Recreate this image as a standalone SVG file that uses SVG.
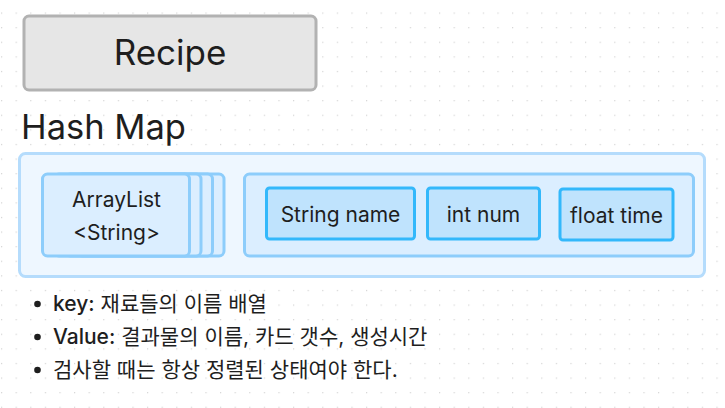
<svg xmlns="http://www.w3.org/2000/svg" width="725" height="408" viewBox="0 0 725 408">
<defs>
<pattern id="dots" x="1" y="12.5" width="14.6" height="14.6" patternUnits="userSpaceOnUse">
<rect x="0" y="0" width="1.2" height="1.2" fill="#d4d4d4"/>
</pattern>
</defs>
<style>
text{font-family:Inter,"Noto Sans","Noto Sans CJK KR",sans-serif;fill:#1e1e1e}
.lb{stroke:#8dcdfb;stroke-width:3;fill:#dbeeff}
.cell{stroke:#33b8fb;stroke-width:3;fill:#bfe3fd}
.t{font-size:21px;text-anchor:middle}
.b{font-size:21px}
</style>
<rect width="725" height="408" fill="#ffffff"/>
<rect width="725" height="408" fill="url(#dots)"/>
<g id="recipe">
<rect x="24" y="16" width="292" height="74" rx="5" fill="#e6e6e6" stroke="#b2b2b2" stroke-width="3"/>
<text x="170" y="65" style="font-size:35px;text-anchor:middle">Recipe</text>
</g>
<g id="hashmap-title">
<text x="21" y="139" style="font-size:34.5px">Hash Map</text>
</g>
<g id="hashmap">
<rect x="19.5" y="153.5" width="685" height="123" rx="6" fill="#eef7ff" stroke="#b5dcfc" stroke-width="3"/>
</g>
<g id="arraylist">
<rect class="lb" x="77" y="174" width="147" height="82" rx="5"/>
<rect class="lb" x="65.5" y="174" width="147" height="82" rx="5"/>
<rect class="lb" x="54" y="174" width="147" height="82" rx="5"/>
<rect class="lb" x="42.5" y="174" width="147" height="82" rx="5"/>
<text class="t" x="116.5" y="207">ArrayList</text>
<text class="t" x="116.5" y="240">&lt;String&gt;</text>
</g>
<g id="value">
<rect class="lb" x="244.5" y="174" width="449" height="82" rx="5"/>
</g>
<g id="string-name">
<rect class="cell" x="266.5" y="188" width="148" height="51" rx="3"/>
<text class="t" x="340.5" y="221.5">String name</text>
</g>
<g id="int-num">
<rect class="cell" x="427.5" y="188" width="112" height="51" rx="3"/>
<text class="t" x="483.5" y="221.5">int num</text>
</g>
<g id="float-time">
<rect class="cell" x="560" y="189" width="113" height="51" rx="3"/>
<text class="t" x="616.5" y="222.5">float time</text>
</g>
<g id="notes">
<circle cx="37.5" cy="304" r="3.3" fill="#1e1e1e"/>
<circle cx="37.5" cy="337" r="3.3" fill="#1e1e1e"/>
<circle cx="37.5" cy="370" r="3.3" fill="#1e1e1e"/>
<text class="b" x="53" y="311"><tspan font-weight="500">key:</tspan> 재료들의 이름 배열</text>
<text class="b" x="53" y="344"><tspan font-weight="500">Value:</tspan> 결과물의 이름, 카드 갯수, 생성시간</text>
<text class="b" x="53" y="377">검사할 때는 항상 정렬된 상태여야 한다.</text>
</g>
</svg>
